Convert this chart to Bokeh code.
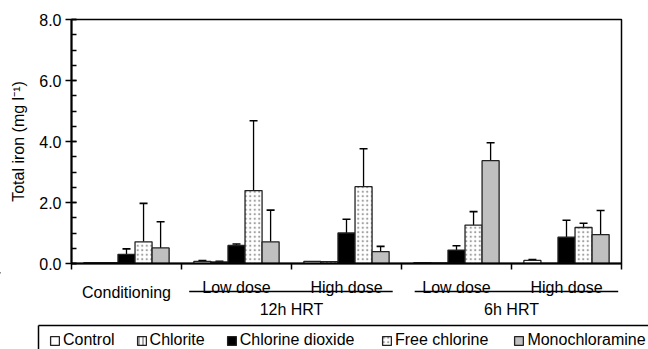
from bokeh.plotting import figure
from bokeh.layouts import column
from bokeh.models import (ColumnDataSource, Range1d, FixedTicker, NumeralTickFormatter,
                          Whisker, TeeHead, Legend, LegendItem)
from bokeh.core.properties import value
from bokeh.embed import file_html
from bokeh.resources import INLINE

# ---------------- data ----------------
group_labels = ["Conditioning", "Low dose", "High dose", "Low dose", "High dose"]
group_centers = [0.5, 1.5, 2.5, 3.5, 4.5]
hrt_labels = ["12h HRT", "6h HRT"]
hrt_centers = [2.0, 4.0]

series_names = ["Control", "Chlorite", "Chlorine dioxide", "Free chlorine", "Monochloramine"]
control = [0.03, 0.07, 0.07, 0.03, 0.10]
control_err = [0.0, 0.03, 0.0, 0.0, 0.03]
chlorite = [0.03, 0.05, 0.06, 0.02, 0.0]
chlorite_err = [0.0, 0.02, 0.0, 0.0, 0.0]
chlorine_dioxide = [0.30, 0.59, 1.00, 0.44, 0.86]
chlorine_dioxide_err = [0.18, 0.05, 0.45, 0.14, 0.56]
free_chlorine = [0.71, 2.39, 2.52, 1.26, 1.18]
free_chlorine_err = [1.26, 2.29, 1.24, 0.44, 0.14]
monochloramine = [0.51, 0.71, 0.39, 3.37, 0.95]
monochloramine_err = [0.86, 1.04, 0.17, 0.59, 0.79]

values = [control, chlorite, chlorine_dioxide, free_chlorine, monochloramine]
errors = [control_err, chlorite_err, chlorine_dioxide_err, free_chlorine_err, monochloramine_err]

# ---------------- layout / styles ----------------
FONT = "Liberation Sans"
W = 648
LEFT, RIGHT, TOP = 71, 27, 19
H1 = 272          # top figure (frame bottom at 263)
H2 = 349 - H1     # bottom strip with group labels and legend
N_GROUPS = 5
BAR_W = 0.155
UNIT = (W - LEFT - RIGHT) / N_GROUPS

styles = [
    dict(fill_color="white"),
    dict(fill_color="white", hatch_pattern="vertical_line", hatch_color="#555555", hatch_scale=4, hatch_weight=1),
    dict(fill_color="black"),
    dict(fill_color="white", hatch_pattern="dot", hatch_color="#a0a0a0", hatch_scale=4.5, hatch_weight=1.2),
    dict(fill_color="#c0c0c0"),
]
BAR_LINE = dict(line_color="#222222", line_width=1.3)

# ---------------- main chart ----------------
p = figure(width=W, height=H1, output_backend="svg", toolbar_location=None,
           x_range=Range1d(0, N_GROUPS), y_range=Range1d(0, 8),
           min_border_left=LEFT, min_border_right=RIGHT, min_border_top=TOP, min_border_bottom=H1 - 263)
p.background_fill_color = "white"
p.border_fill_color = "white"
p.outline_line_color = "black"
p.outline_line_width = 1.5
p.xgrid.visible = False
p.ygrid.visible = False

err_x, err_lo, err_hi = [], [], []
for i, (vals, errs, st) in enumerate(zip(values, errors, styles)):
    xs = [c + (i - 2) * BAR_W for c in group_centers]
    src = ColumnDataSource(dict(x=xs, top=vals))
    p.vbar(x="x", top="top", width=BAR_W, source=src, **BAR_LINE, **st)
    for x, v, e in zip(xs, vals, errs):
        if e > 0:
            err_x.append(x)
            err_lo.append(v)
            err_hi.append(v + e)

err_src = ColumnDataSource(dict(x=err_x, lower=err_lo, upper=err_hi))
p.add_layout(Whisker(source=err_src, base="x", lower="lower", upper="upper",
                     line_color="black", line_width=1.3,
                     upper_head=TeeHead(size=8, line_width=1.6, line_color="black"),
                     lower_head=None))

yax = p.yaxis[0]
yax.ticker = FixedTicker(ticks=[0, 2, 4, 6, 8], minor_ticks=[i * 0.5 for i in range(17)])
yax.formatter = NumeralTickFormatter(format="0.0")
yax.axis_line_width = 2
yax.axis_line_color = "black"
yax.major_tick_line_width = 1.5
yax.minor_tick_line_width = 1.5
yax.major_tick_out = 6
yax.major_tick_in = 5
yax.minor_tick_in = 5
yax.minor_tick_out = 0
yax.major_label_standoff = 4
yax.major_label_text_font = FONT
yax.major_label_text_font_size = "16px"
yax.major_label_text_color = "black"
yax.axis_label = "Total iron (mg l\u207b\u00b9)"
yax.axis_label_text_font = FONT
yax.axis_label_text_font_size = "16px"
yax.axis_label_text_font_style = "normal"
yax.axis_label_text_color = "black"
yax.axis_label_standoff = 9

xax = p.xaxis[0]
xax.ticker = FixedTicker(ticks=list(range(N_GROUPS + 1)), minor_ticks=[])
xax.major_label_overrides = {i: "" for i in range(N_GROUPS + 1)}
xax.major_label_standoff = 0
xax.axis_line_width = 2
xax.axis_line_color = "black"
xax.major_tick_line_width = 1.5
xax.major_tick_out = 6
xax.major_tick_in = 0
xax.minor_tick_out = 0
xax.minor_tick_in = 0

# ---------------- bottom strip: category labels + legend ----------------
# same horizontal scale as the chart; vertical = pixels below the strip top
p2 = figure(width=W, height=H2, output_backend="svg", toolbar_location=None,
            x_axis_location=None, y_axis_location=None,
            x_range=Range1d(-LEFT / UNIT, N_GROUPS + RIGHT / UNIT), y_range=Range1d(H2, 0),
            min_border=0, min_border_left=0, min_border_right=0, min_border_top=0, min_border_bottom=0)
p2.frame_align = False
p2.grid.visible = False
p2.outline_line_color = None
p2.background_fill_color = "white"
p2.border_fill_color = "white"

lab_y = [20 if g == "Conditioning" else 15 for g in group_labels]
p2.text(x=group_centers, y=lab_y, text=group_labels, text_align="center",
        text_baseline="alphabetic", text_font=value(FONT), text_font_size="16px", text_color="black")
p2.text(x=hrt_centers, y=[37, 37], text=hrt_labels, text_align="center",
        text_baseline="alphabetic", text_font=value(FONT), text_font_size="16px", text_color="black")
p2.segment(x0=[1.07, 3.12], y0=[19, 19], x1=[2.92, 4.97], y1=[19, 19],
           line_color="black", line_width=1.5)

# legend frame (its lower edge lies below the window, as in the original)
box_left = (38 - LEFT) / UNIT
p2.segment(x0=[box_left, box_left], y0=[53, 53], x1=[N_GROUPS + 1, box_left], y1=[53, H2 + 5],
           line_color="black", line_width=1.5)

# legend swatches: one off-screen sample per series so the legend can draw its glyph
leg_renderers = []
for st in styles:
    r = p2.vbar(x=[-100], top=[0], width=BAR_W, **BAR_LINE, **st)
    leg_renderers.append(r)

LEG_STYLE = dict(orientation="horizontal",
                 label_text_font=FONT, label_text_font_size="16px", label_text_color="black",
                 glyph_width=11, glyph_height=11, label_standoff=3, padding=0,
                 label_height=16, border_line_alpha=0, background_fill_alpha=0)
items = [LegendItem(label=n, renderers=[r]) for n, r in zip(series_names, leg_renderers)]
p2.add_layout(Legend(items=items[:3], location=(49, 0), spacing=21, **LEG_STYLE))
p2.add_layout(Legend(items=items[3:], location=(381, 0), spacing=25, **LEG_STYLE))

layout = column(p, p2, spacing=0)
open("out.html", "w").write(file_html(layout, INLINE))
